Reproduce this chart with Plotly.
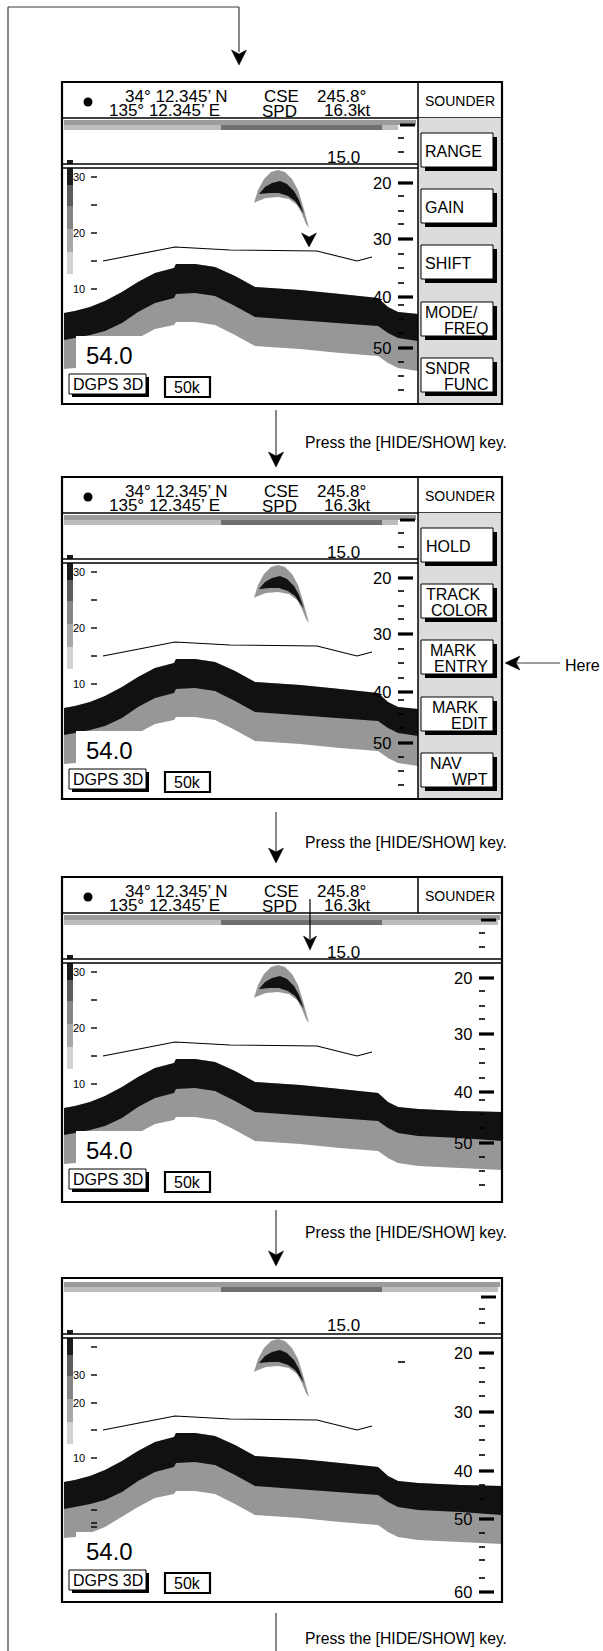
import plotly.graph_objects as go

# ---------------- values ----------------
# every y below is measured from the top edge of its panel (px)
PANEL_TOP = [82, 477, 877, 1278]
PANEL_BOTTOM = [404, 799, 1202, 1602]
HAS_HEADER = [True, True, True, False]
HAS_MENU = [True, True, False, False]
ECHO_SHIFT = [0, 0, 0, -27]
BAR_SHIFT = [0, 0, 0, -26]
STRIP_Y = [38, 38, 38, 4]
LABEL15_Y = [75, 75, 75, 47]
RULE_Y = [82, 82, 82, 56]

# bottom echo: x, top of black, black/grey boundary, bottom of grey
PROF_X = [64, 75, 90, 105, 122, 138, 155, 174, 176, 195, 215, 235, 255, 300, 340, 378, 388, 398, 418, 460, 502]
PROF_TOP = [231, 229, 225, 219, 210, 200, 191, 186, 182, 182, 185, 194, 205, 208, 212, 216, 225, 230, 232, 234, 235]
PROF_MID = [258, 256, 253, 249, 241, 230, 221, 216, 212, 211, 214, 224, 235, 238, 241, 244, 251, 256, 259, 261, 264]
PROF_BOTTOM = [287, 286, 282, 276, 266, 256, 247, 243, 240, 240, 243, 253, 264, 267, 271, 274, 281, 286, 289, 291, 293]

# fish echo
FISH_GRAY_X = [254, 258, 264, 271, 278, 285, 292, 298, 303, 306, 309, 306, 302, 297, 289, 278, 266, 258, 254]
FISH_GRAY_Y = [121, 108, 97, 90, 88, 90, 97, 108, 124, 136, 146, 142, 132, 123, 117, 115, 116, 119, 121]
FISH_BLACK_X = [259, 265, 272, 280, 287, 294, 299, 304, 300, 295, 288, 279, 270, 263, 259]
FISH_BLACK_Y = [112, 105, 101, 99, 102, 109, 118, 132, 126, 119, 114, 111, 111, 112, 112]

# temperature trace line
TRACK_X = [103, 175, 230, 317, 357, 372]
TRACK_Y = [179, 165, 168, 169, 179, 175]

# colour bar on the left
BAR_EDGES = [78, 103, 124, 147, 170, 192]
BAR_COLORS = ["#1c1c1c", "#5c5c5c", "#868686", "#a9a9a9", "#d2d2d2"]
LEFT_LABELS = ["30", "", "20", "", "10"]
LEFT_Y = [95, 123, 151, 179, 207]
P4_LEFT_LABELS = ["", "30", "20", "", "10", "", "", ""]
P4_LEFT_Y = [69, 97, 125, 152, 180, 232, 245, 249]

# depth scale on the right
DEPTH_LABELS = ["20", "30", "40", "50"]
DEPTH_Y = [101, 157, 215, 266]
DEPTH_MINOR_Y = [114, 129, 142, 172, 186, 201, 223, 237, 251, 280, 294, 308]
UPPER_MAJOR_Y = [43, 43, 43, 19]
UPPER_MINOR_Y = [[56, 70], [56, 70], [56, 70], [31, 45]]
P4_DEPTH_LABELS = ["20", "30", "40", "50", "60"]
P4_DEPTH_Y = [75, 134, 193, 241, 314]
P4_DEPTH_MINOR_Y = [90, 104, 118, 148, 162, 177, 207, 221, 255, 269, 282, 300]

# header
LAT_LON = ["34° 12.345’ N", "135° 12.345’ E"]
CSE_SPD = ["CSE", "SPD"]
CSE_SPD_VAL = ["245.8°", "16.3kt"]

# soft keys
MENU_TOP = [51, 107, 163, 220, 276]
MENU1_A = ["RANGE", "GAIN", "SHIFT", "MODE/", "SNDR"]
MENU1_B = ["", "", "", "FREQ", "FUNC"]
MENU1_INDENT = [0, 0, 0, 0, 0]
MENU2_A = ["HOLD", "TRACK", "MARK", "MARK", "NAV"]
MENU2_B = ["", "COLOR", "ENTRY", "EDIT", "WPT"]
MENU2_INDENT = [1, 1, 5, 7, 5]

STEP_TEXT = "Press the [HIDE/SHOW] key."
STEP_TEXT_Y = [442, 842, 1232, 1638]
STEP_LINE_Y0 = [410, 812, 1210, 1613]
STEP_TIP_Y = [467, 863, 1266, None]

# ---------------- drawing ----------------
FONT = "Liberation Sans, Arial, Helvetica, sans-serif"
X_L, X_R, X_MENU = 62, 502, 418
W, H = 603, 1651

shapes = []
ann = []
traces = []


def rect(x0, y0, x1, y1, fill="rgba(0,0,0,0)", color="black", width=0):
    shapes.append(dict(type="rect", xref="x", yref="y", x0=x0, y0=y0, x1=x1, y1=y1,
                       fillcolor=fill, line=dict(color=color, width=width)))


def seg(x0, y0, x1, y1, color="black", width=1.5):
    shapes.append(dict(type="line", xref="x", yref="y", x0=x0, y0=y0, x1=x1, y1=y1,
                       line=dict(color=color, width=width)))


def poly(xs, ys, fill="black"):
    d = "M " + " L ".join(f"{a},{b}" for a, b in zip(xs, ys)) + " Z"
    shapes.append(dict(type="path", xref="x", yref="y", path=d, fillcolor=fill,
                       line=dict(color=fill, width=0.5)))


def head_down(x, y, ln=15, half=7):
    poly([x - half, x, x + half, x], [y - ln, y - ln + 4, y - ln, y])


def text(x, y, s, size, anchor="left"):
    ann.append(dict(x=x, y=y, xref="x", yref="y", text=s, showarrow=False, xanchor=anchor,
                    yanchor="middle", font=dict(family=FONT, size=size, color="black")))


def fill_trace(xs, ys, color):
    traces.append(go.Scatter(x=xs, y=ys, mode="lines", fill="toself", fillcolor=color,
                             line=dict(width=0, color=color), hoverinfo="skip", showlegend=False))


for i, top in enumerate(PANEL_TOP):
    bot = PANEL_BOTTOM[i]
    menu = HAS_MENU[i]
    right = X_MENU if menu else X_R
    s = top + ECHO_SHIFT[i]
    b = top + BAR_SHIFT[i]

    # echoes (traces, under all shapes)
    n = PROF_X.index(X_MENU) + 1 if menu else len(PROF_X)
    px = PROF_X[:n]
    fill_trace(px + px[::-1], [s + v for v in PROF_TOP[:n]] + [s + v for v in PROF_BOTTOM[:n]][::-1], "#979797")
    fill_trace(px + px[::-1], [s + v for v in PROF_TOP[:n]] + [s + v for v in PROF_MID[:n]][::-1], "#111111")
    fill_trace(FISH_GRAY_X, [s + v for v in FISH_GRAY_Y], "#979797")
    fill_trace(FISH_BLACK_X, [s + v for v in FISH_BLACK_Y], "#111111")
    traces.append(go.Scatter(x=TRACK_X, y=[s + v for v in TRACK_Y], mode="lines",
                             line=dict(color="black", width=1.1), hoverinfo="skip", showlegend=False))

    # colour strip along the top of the echo window
    sy = top + STRIP_Y[i]
    rect(X_L + 2, sy, right - 2, sy + 5, fill="#9b9b9b")
    rect(X_L + 2, sy + 5, right - 20 if menu else right - 4, sy + 10, fill="#bdbdbd")
    rect(221, sy + 5, 382, sy + 10, fill="#6f6f6f")

    # depth scale on the right
    tx = 398 if menu else 479
    seg(tx + 2, top + UPPER_MAJOR_Y[i], tx + 17, top + UPPER_MAJOR_Y[i], width=3)
    for v in UPPER_MINOR_Y[i]:
        seg(tx, top + v, tx + 6, top + v, width=1.6)
    labels = P4_DEPTH_LABELS if i == 3 else DEPTH_LABELS
    ys = P4_DEPTH_Y if i == 3 else DEPTH_Y
    for lab, v in zip(labels, ys):
        seg(tx, top + v, tx + 15, top + v, width=3.2)
        text(tx - 5, top + v, lab, 16.5, "right")
    for v in (P4_DEPTH_MINOR_Y if i == 3 else DEPTH_MINOR_Y):
        seg(tx, top + v, tx + 6, top + v, width=1.6)
    if i == 3:
        seg(398, top + 84, 405, top + 84, width=1.6)

    text(343.5, top + LABEL15_Y[i], "15.0", 17, "center")

    # colour bar + left scale
    for k, col in enumerate(BAR_COLORS):
        rect(67, b + BAR_EDGES[k], 73, b + BAR_EDGES[k + 1], fill=col)
    lab_l = P4_LEFT_LABELS if i == 3 else LEFT_LABELS
    lab_y = P4_LEFT_Y if i == 3 else LEFT_Y
    for lab, v in zip(lab_l, lab_y):
        seg(91, top + v, 97, top + v, width=1.4)
        if lab:
            text(87, top + v, lab, 11, "right")

    # double rule between the upper window and the echo window
    ry = top + RULE_Y[i]
    rect(X_L, ry, right, ry + 4, fill="white")
    seg(X_L, ry, right, ry, width=1.5)
    seg(X_L, ry + 4, right, ry + 4, width=1.5)

    # depth readout and status boxes
    rect(76, top + 254, 142, top + 286, fill="white")
    text(84, top + 273, "54.0", 24)
    rect(72, top + 295, 149, top + 315, fill="black")
    rect(69, top + 292, 146, top + 312, fill="white", width=1)
    text(107.5, top + 302, "DGPS 3D", 16, "center")
    rect(165, top + 295, 210, top + 315, fill="white", width=2.2)
    text(187.5, top + 305, "50k", 16, "center")

    # header
    if HAS_HEADER[i]:
        rect(X_L, top, X_R, top + 36, fill="white")
        seg(X_L, top + 36, X_R, top + 36, width=1.5)
        seg(X_MENU, top, X_MENU, top + 36, width=1.5)
        shapes.append(dict(type="circle", xref="x", yref="y", x0=83.5, y0=top + 15.5, x1=92.5,
                           y1=top + 24.5, fillcolor="black", line=dict(width=0)))
        text(230, top + 14, LAT_LON[0], 17, "right")
        text(222, top + 28, LAT_LON[1], 17, "right")
        text(262, top + 14, CSE_SPD[0], 17)
        text(260, top + 29, CSE_SPD[1], 17)
        text(315, top + 14, CSE_SPD_VAL[0], 17)
        text(373, top + 28, CSE_SPD_VAL[1], 17, "right")
        text(459.5, top + 19, "SOUNDER", 14, "center")

    # soft key column
    if menu:
        rect(X_MENU, top + 36, X_R, bot, fill="#dcdcdc")
        seg(X_MENU, top + 36, X_MENU, bot, width=1.5)
        la, lb, ind = (MENU1_A, MENU1_B, MENU1_INDENT) if i == 0 else (MENU2_A, MENU2_B, MENU2_INDENT)
        for k, bt in enumerate(MENU_TOP):
            y0 = top + bt
            rect(425, y0 + 4, 497, y0 + 38, fill="black")
            rect(421, y0, 493, y0 + 34, fill="white", width=1)
            if lb[k]:
                text(423 + ind[k], y0 + 10, la[k], 16)
                text(490, y0 + 26, lb[k], 16, "right")
            else:
                text(423 + ind[k], y0 + 18, la[k], 16)

    # panel outline
    rect(X_L, top, X_R, bot, width=2.2)

# arrow on the trace line (panel 1) and arrow into panel 3
head_down(309, PANEL_TOP[0] + 165, ln=14, half=7.5)
seg(310, PANEL_TOP[2] + 22, 310, PANEL_TOP[2] + 62, width=1.2)
head_down(310, PANEL_TOP[2] + 73, ln=14, half=6.5)

# loop line from the bottom back to the top
LOOP_X = [8, 8, 239, 239]
LOOP_Y = [H, 7, 7, 52]
for k in range(3):
    seg(LOOP_X[k], LOOP_Y[k], LOOP_X[k + 1], LOOP_Y[k + 1], color="#3a3a3a", width=1.2)
head_down(239, 65, ln=15, half=7.5)

# step arrows
for k, ty in enumerate(STEP_TEXT_Y):
    tip = STEP_TIP_Y[k]
    seg(276, STEP_LINE_Y0[k], 276, (tip - 10) if tip else H, color="#3a3a3a", width=1.2)
    if tip:
        head_down(276, tip, ln=15, half=7.5)
    text(303, ty, STEP_TEXT, 15.7)

# "Here" pointer
seg(516, 663, 560, 663, color="#3a3a3a", width=1.2)
poly([505, 520, 516, 520], [663, 656, 663, 670])
text(602, 665, "Here", 16, "right")

fig = go.Figure(traces)
fig.update_layout(
    width=W, height=H, margin=dict(l=0, r=0, t=0, b=0),
    paper_bgcolor="white", plot_bgcolor="white",
    xaxis=dict(range=[0, W], visible=False, fixedrange=True),
    yaxis=dict(range=[H, 0], visible=False, fixedrange=True),
    shapes=shapes, annotations=ann, showlegend=False,
)
# the page's default 8px body margin would shift the whole figure
fig.write_html("out.html", post_script="document.body.style.margin='0';",
               config={"displayModeBar": False})
